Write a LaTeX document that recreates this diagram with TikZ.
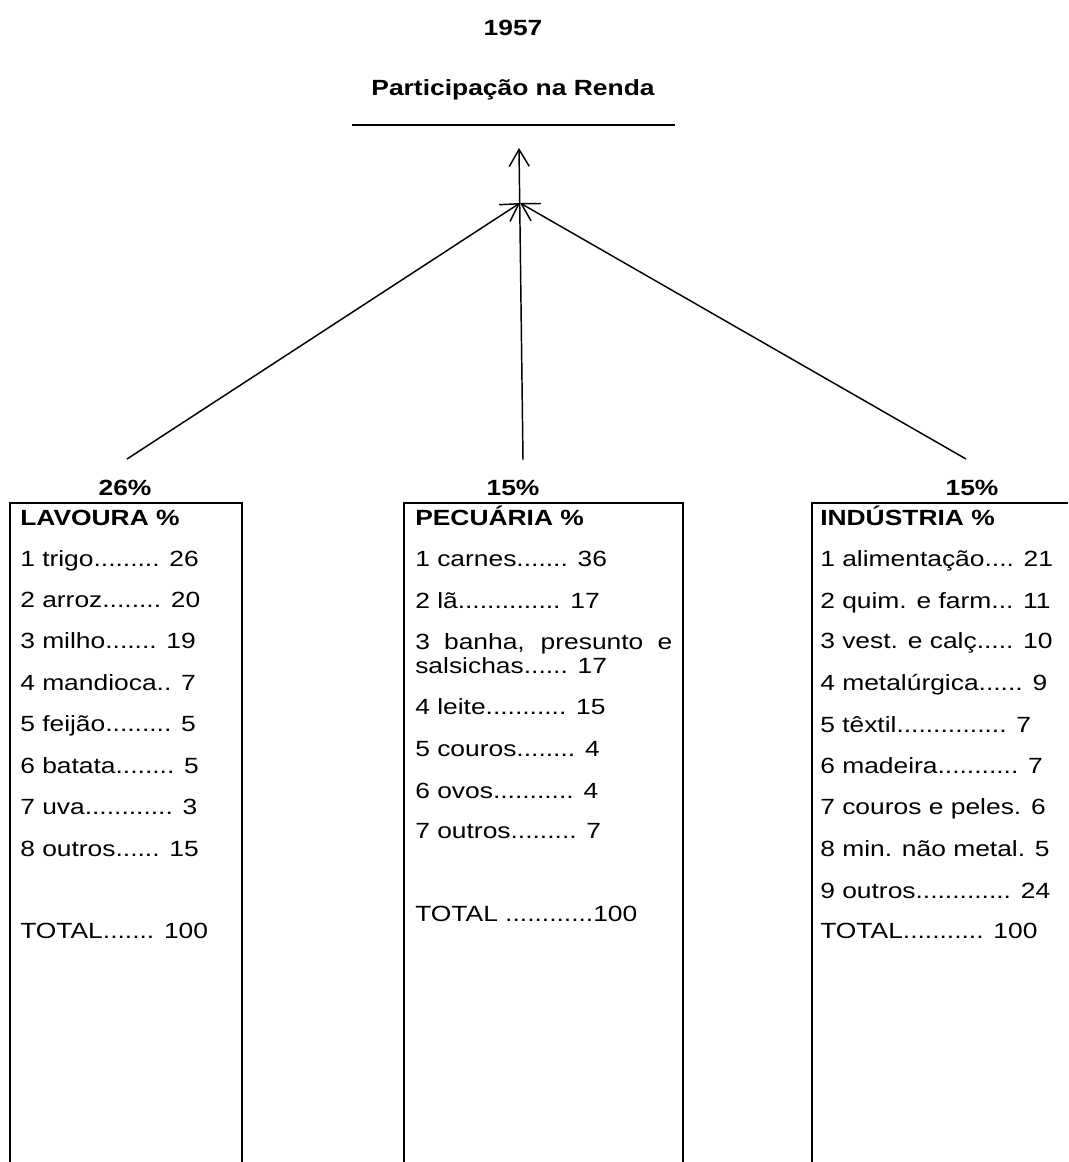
\documentclass[tikz,border=0pt]{standalone}
\usepackage{fontspec}
\setmainfont{Liberation Sans}[FakeStretch=1.2]
\usetikzlibrary{arrows.meta}
\tikzset{
	txt/.style={anchor=base west, inner sep=0pt, font=\fontsize{16.5}{19}\selectfont},
	head/.style={txt, font=\fontsize{16.5}{19}\selectfont\bfseries},
	title/.style={anchor=base, inner sep=0pt, font=\fontsize{16.5}{19}\selectfont\bfseries},
	boxline/.style={line width=1.5pt},
	arr/.style={line width=1.1pt, -{Straight Barb[length=12.75pt,width=15pt,line width=1.1pt]}}
}
\begin{document}
\begin{tikzpicture}[x=0.75pt,y=-0.75pt]
		\useasboundingbox (0,0) rectangle (1068,1162);
		% titulo
		\node[title] (ano) at (513,36) {1957};
		\node[title] (renda) at (513,96) {Participação na Renda};
		\draw[line width=1.1pt] (352,125) -- (675,125);
		\coordinate (topo) at (519,148);
		\coordinate (meio) at (520,203);
		% percentuais
		\node[title] (pctLav) at (125,495) {26\%};
		\node[title] (pctPec) at (513,495) {15\%};
		\node[title] (pctInd) at (972,495) {15\%};
		\coordinate (lavIni) at (127,459);
		\coordinate (pecIni) at (523,460);
		\coordinate (indIni) at (966,459);
		\draw[arr] (lavIni) -- (meio);
		\draw[arr] (indIni) -- (meio);
		\draw[arr] (pecIni) -- (topo);
		% caixas
		\draw[boxline] (10,1162) |- (242,503) -- (242,1162);
		\draw[boxline] (404,1162) |- (683,503) -- (683,1162);
		\draw[boxline] (812,1162) |- (1068,503);
		% lavoura
		\node[head] (lavTit) at (20,525) {LAVOURA \%};
		\node[txt] (lav1) at (20,566) {1 trigo......... 26};
		\node[txt] (lav2) at (20,607) {2 arroz........ 20};
		\node[txt] (lav3) at (20,648) {3 milho....... 19};
		\node[txt] (lav4) at (20,690) {4 mandioca.. 7};
		\node[txt] (lav5) at (20,731) {5 feijão......... 5};
		\node[txt] (lav6) at (20,773) {6 batata........ 5};
		\node[txt] (lav7) at (20,814) {7 uva............ 3};
		\node[txt] (lav8) at (20,856) {8 outros...... 15};
		\node[txt] (lavTot) at (20,938) {TOTAL....... 100};
		% pecuaria
		\node[head] (pecTit) at (415,525) {PECUÁRIA \%};
		\node[txt] (pec1) at (415,566) {1 carnes....... 36};
		\node[txt] (pec2) at (415,608) {2 lã.............. 17};
		\node[txt] (pec3) at (415,649) {\makebox[192.75pt][s]{3 banha, presunto e}};
		\node[txt] (pec3b) at (415,673) {salsichas...... 17};
		\node[txt] (pec4) at (415,714) {4 leite........... 15};
		\node[txt] (pec5) at (415,756) {5 couros........ 4};
		\node[txt] (pec6) at (415,798) {6 ovos........... 4};
		\node[txt] (pec7) at (415,838) {7 outros......... 7};
		\node[txt] (pecTot) at (415,921) {TOTAL ............100};
		% industria
		\node[head] (indTit) at (820,525) {INDÚSTRIA \%};
		\node[txt] (ind1) at (820,566) {1 alimentação.... 21};
		\node[txt] (ind2) at (820,608) {2 quim. e farm... 11};
		\node[txt] (ind3) at (820,648) {3 vest. e calç..... 10};
		\node[txt] (ind4) at (820,690) {4 metalúrgica...... 9};
		\node[txt] (ind5) at (820,732) {5 têxtil............... 7};
		\node[txt] (ind6) at (820,773) {6 madeira........... 7};
		\node[txt] (ind7) at (820,814) {7 couros e peles. 6};
		\node[txt] (ind8) at (820,856) {8 min. não metal. 5};
		\node[txt] (ind9) at (820,898) {9 outros............. 24};
		\node[txt] (indTot) at (820,938) {TOTAL........... 100};
\end{tikzpicture}
\end{document}
